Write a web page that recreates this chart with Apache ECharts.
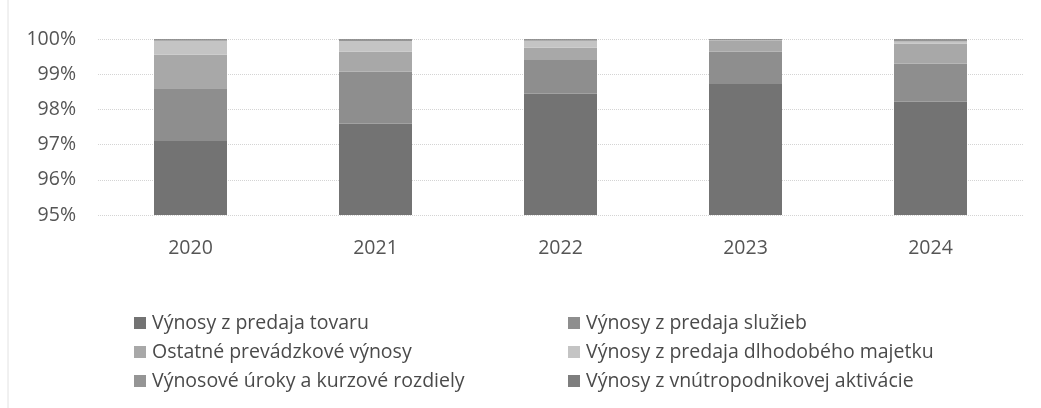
<!DOCTYPE html>
<html><head><meta charset="utf-8">
<script src="https://cdn.jsdelivr.net/npm/echarts@6/dist/echarts.min.js"></script>
<style>html,body{margin:0;padding:0;background:#fff}#c{width:1041px;height:408px}</style>
</head><body><div id="c"></div>
<script>
const categories = ['2020','2021','2022','2023','2024'];
const tovaru     = [97.10, 97.60, 98.45, 98.72, 98.22];
const sluzieb    = [1.50, 1.47, 0.95, 0.92, 1.08];
const ostatne    = [0.95, 0.57, 0.35, 0.30, 0.57];
const dlhodobeho = [0.40, 0.30, 0.20, 0.02, 0.06];
const uroky      = [0.03, 0.04, 0.03, 0.02, 0.05];
const aktivacie  = [0.02, 0.02, 0.02, 0.02, 0.02];
const seriesNames = ['Výnosy z predaja tovaru','Výnosy z predaja služieb','Ostatné prevádzkové výnosy','Výnosy z predaja dlhodobého majetku','Výnosové úroky a kurzové rozdiely','Výnosy z vnútropodnikovej aktivácie'];
const yTicks = [95,96,97,98,99,100];

const data = [tovaru, sluzieb, ostatne, dlhodobeho, uroky, aktivacie];
const colors = ['#737373','#8e8e8e','#a8a8a8','#c4c4c4','#959595','#7e7e7e'];
const font = '"Open Sans", sans-serif';
const legendText = {color:'#4a4a4a', fontSize:19.5, fontFamily:font, padding:[0,0,0,1]};
const chart = echarts.init(document.getElementById('c'));
chart.setOption({
  animation:false,
  color: colors,
  graphic:[{type:'rect', shape:{x:8, y:-2, width:1100, height:500}, style:{fill:'none', stroke:'#e2e2e2', lineWidth:1}, silent:true}],
  grid:{left:98, right:18, top:39, height:176, containLabel:false},
  xAxis:{type:'category', data:categories,
    axisLine:{show:false}, axisTick:{show:false},
    axisLabel:{color:'#555', fontSize:19.5, fontFamily:font, margin:23}},
  yAxis:{type:'value', min:95, max:100, interval:1,
    axisLabel:{color:'#555', fontSize:19.5, fontFamily:font, margin:22, formatter:v=>v+'%'},
    splitLine:{lineStyle:{color:'#d4d4d4', type:'dotted'}},
    axisLine:{show:false}, axisTick:{show:false}},
  legend:[
    {left:129, top:308, orient:'vertical', itemGap:9, itemWidth:12, itemHeight:12, icon:'rect',
      textStyle:legendText, data:[seriesNames[0], seriesNames[2], seriesNames[4]]},
    {left:563, top:308, orient:'vertical', itemGap:9, itemWidth:12, itemHeight:12, icon:'rect',
      textStyle:legendText, data:[seriesNames[1], seriesNames[3], seriesNames[5]]}
  ],
  series: seriesNames.map((n,i)=>({name:n, type:'bar', stack:'s', barWidth:73, data:data[i]}))
});
</script></body></html>
